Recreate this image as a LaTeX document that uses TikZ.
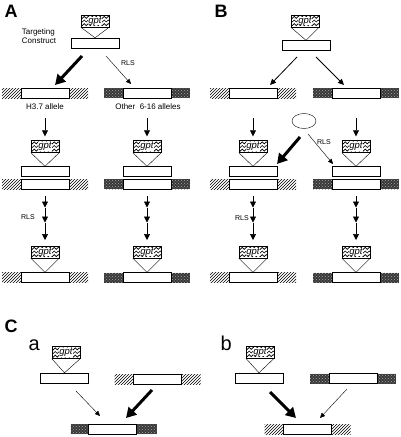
\documentclass[tikz,border=0pt]{standalone}
\usepackage{fontspec}
\setmainfont{Liberation Sans}
\usetikzlibrary{patterns,arrows.meta,decorations.pathmorphing,calc,shapes.geometric}
\newcommand{\gptlab}{{\setlength{\fboxsep}{0.2pt}\colorbox{white}{gpt}}}

\begin{document}
\begin{tikzpicture}[
    x=1pt, y=-1pt,
    gpt/.style={draw, fill=white, minimum width=28pt, minimum height=12pt, inner sep=0pt,
      font=\fontsize{9.5}{9.5}\selectfont\itshape,
      path picture={\foreach \k in {0.2,0.5,0.8}{
        \draw[line width=0.6pt, decorate, decoration={snake, amplitude=1pt, segment length=4pt}]
          ($(path picture bounding box.south west)!\k!(path picture bounding box.north west)+(-2pt,0)$) --
          ($(path picture bounding box.south east)!\k!(path picture bounding box.north east)+(2pt,0)$);}}},
    construct/.style={draw, fill=white, minimum width=48pt, minimum height=10pt, inner sep=0pt},
    allele/.style={draw, fill=white, minimum width=48pt, minimum height=10pt, inner sep=0pt},
    hatch/.style={pattern=north east lines, minimum width=86pt, minimum height=10pt, inner sep=0pt},
    dark/.style={fill=black!78, postaction={pattern=crosshatch dots, pattern color=black!35},
      minimum width=86pt, minimum height=10pt, inner sep=0pt},
    insert/.style={line width=0.4pt},
    bigarrow/.style={-{Triangle[length=10pt,width=11pt]}, line width=3pt},
    midarrow/.style={-{Triangle[length=6pt,width=5.5pt]}, line width=0.8pt},
    thinarrow/.style={-{Triangle[length=5pt,width=4.5pt]}, line width=0.4pt},
    downarrow/.style={-{Triangle[length=6pt,width=6pt]}, line width=0.7pt},
    panel/.style={anchor=base west, font=\fontsize{18}{18}\selectfont\bfseries},
    sub/.style={anchor=base west, font=\fontsize{20}{20}\selectfont},
    txt/.style={font=\fontsize{8}{9}\selectfont},
    rls/.style={font=\fontsize{7}{7}\selectfont}
  ]
  \useasboundingbox (0,0) rectangle (400,437);

  % Panel A
  \node[panel] (lA) at (1,17) {A};
  \node[gpt] (gA) at (95,21) {\gptlab};
  \node[construct] (cA) at (95,43) {};
  \draw[insert] (gA.south west) -- (cA.north) -- (gA.south east);
  \node[txt, align=left] (tc) at (39,36) {Targeting\\Construct};
  \coordinate (pA1) at (82,56);
  \coordinate (pA2) at (55,85);
  \coordinate (pA3) at (106,56);
  \coordinate (pA4) at (131,84);
  \draw[bigarrow] (pA1) -- (pA2);
  \draw[thinarrow] (pA3) -- (pA4);
  \node[rls] (rA) at (128,63) {RLS};
  \node[txt] (h37) at (45,107) {H3.7 allele};
  \node[txt] (oth) at (148,107) {Other\ \ 6-16 alleles};

  % Panel B
  \node[panel] (lB) at (211,17) {B};
  \node[gpt] (gB) at (305,21) {\gptlab};
  \node[construct] (cB) at (306,45.5) {};
  \draw[insert] (gB.south west) -- (cB.north) -- (gB.south east);
  \coordinate (pB1) at (297,57);
  \coordinate (pB2) at (270,85);
  \coordinate (pB3) at (316,57);
  \coordinate (pB4) at (344,85);
  \draw[midarrow] (pB1) -- (pB2);
  \draw[midarrow] (pB3) -- (pB4);
  \node[draw, ellipse, minimum width=24pt, minimum height=15pt, inner sep=0pt] (cell) at (304,121) {};
  \coordinate (pB5) at (300,137);
  \coordinate (pB6) at (277,164);
  \coordinate (pB7) at (308,134);
  \coordinate (pB8) at (333,164);
  \draw[bigarrow] (pB5) -- (pB6);
  \draw[thinarrow] (pB7) -- (pB8);
  \node[rls] (rB) at (324,142) {RLS};

  % Columns of A and B
  \foreach \x/\fl/\n in {45/hatch/al, 147/dark/ar, 253/hatch/bl, 356/dark/br}{
    \node[\fl] (f1\n) at (\x,93) {};
    \node[allele] (a1\n) at (\x,93) {};
    \node[gpt] (g2\n) at (\x,146.5) {\gptlab};
    \node[construct] (c2\n) at (\x,171.5) {};
    \node[\fl] (f2\n) at (\x,184) {};
    \node[allele] (a2\n) at (\x,184) {};
    \draw[insert] (g2\n.south west) -- (c2\n.north) -- (g2\n.south east);
    \draw[downarrow] ([yshift=-20pt]a1\n.south) -- ([yshift=4pt]g2\n.north);
    \node[gpt] (g3\n) at (\x,252) {\gptlab};
    \node[\fl] (f3\n) at (\x,277.5) {};
    \node[allele] (a3\n) at (\x,277.5) {};
    \draw[insert] (g3\n.south west) -- (a3\n.north) -- (g3\n.south east);
    \coordinate (q0\n) at (\x,196);
    \coordinate (q1\n) at (\x,207.5);
    \coordinate (q2\n) at (\x,222.5);
    \coordinate (q3\n) at (\x,240);
    \draw[downarrow] (q0\n) -- (q1\n);
    \draw[downarrow] (q1\n) -- (q2\n);
    \draw[downarrow] (q2\n) -- (q3\n);
  }
  \node[rls] (rA2) at (28,217) {RLS};
  \node[rls] (rB2) at (242,218) {RLS};

  % Panel C, a
  \node[panel] (lC) at (1,332) {C};
  \node[sub] (la) at (25,350) {a};
  \node[gpt] (gCa) at (66,352.5) {\gptlab};
  \node[construct] (cCa) at (64.5,378) {};
  \draw[insert] (gCa.south west) -- (cCa.north) -- (gCa.south east);
  \node[hatch] (fCa) at (157.5,379) {};
  \node[allele] (aCa) at (157,379) {};
  \coordinate (pC1) at (76,391);
  \coordinate (pC2) at (100,416);
  \coordinate (pC3) at (152,390);
  \coordinate (pC4) at (126,418);
  \draw[thinarrow] (pC1) -- (pC2);
  \draw[bigarrow] (pC3) -- (pC4);
  \node[dark] (fCa2) at (113.5,429) {};
  \node[allele] (aCa2) at (112,429) {};

  % Panel C, b
  \node[sub] (lb) at (217,350) {b};
  \node[gpt] (gCb) at (260,352) {\gptlab};
  \node[construct] (cCb) at (259,378) {};
  \draw[insert] (gCb.south west) -- (cCb.north) -- (gCb.south east);
  \node[dark] (fCb) at (353,378.5) {};
  \node[allele] (aCb) at (353,378.5) {};
  \coordinate (pC5) at (270,392);
  \coordinate (pC6) at (296,418);
  \coordinate (pC7) at (347,389);
  \coordinate (pC8) at (320,418);
  \draw[bigarrow] (pC5) -- (pC6);
  \draw[thinarrow] (pC7) -- (pC8);
  \node[hatch] (fCb2) at (307.5,429) {};
  \node[allele] (aCb2) at (307,429) {};
\end{tikzpicture}
\end{document}
